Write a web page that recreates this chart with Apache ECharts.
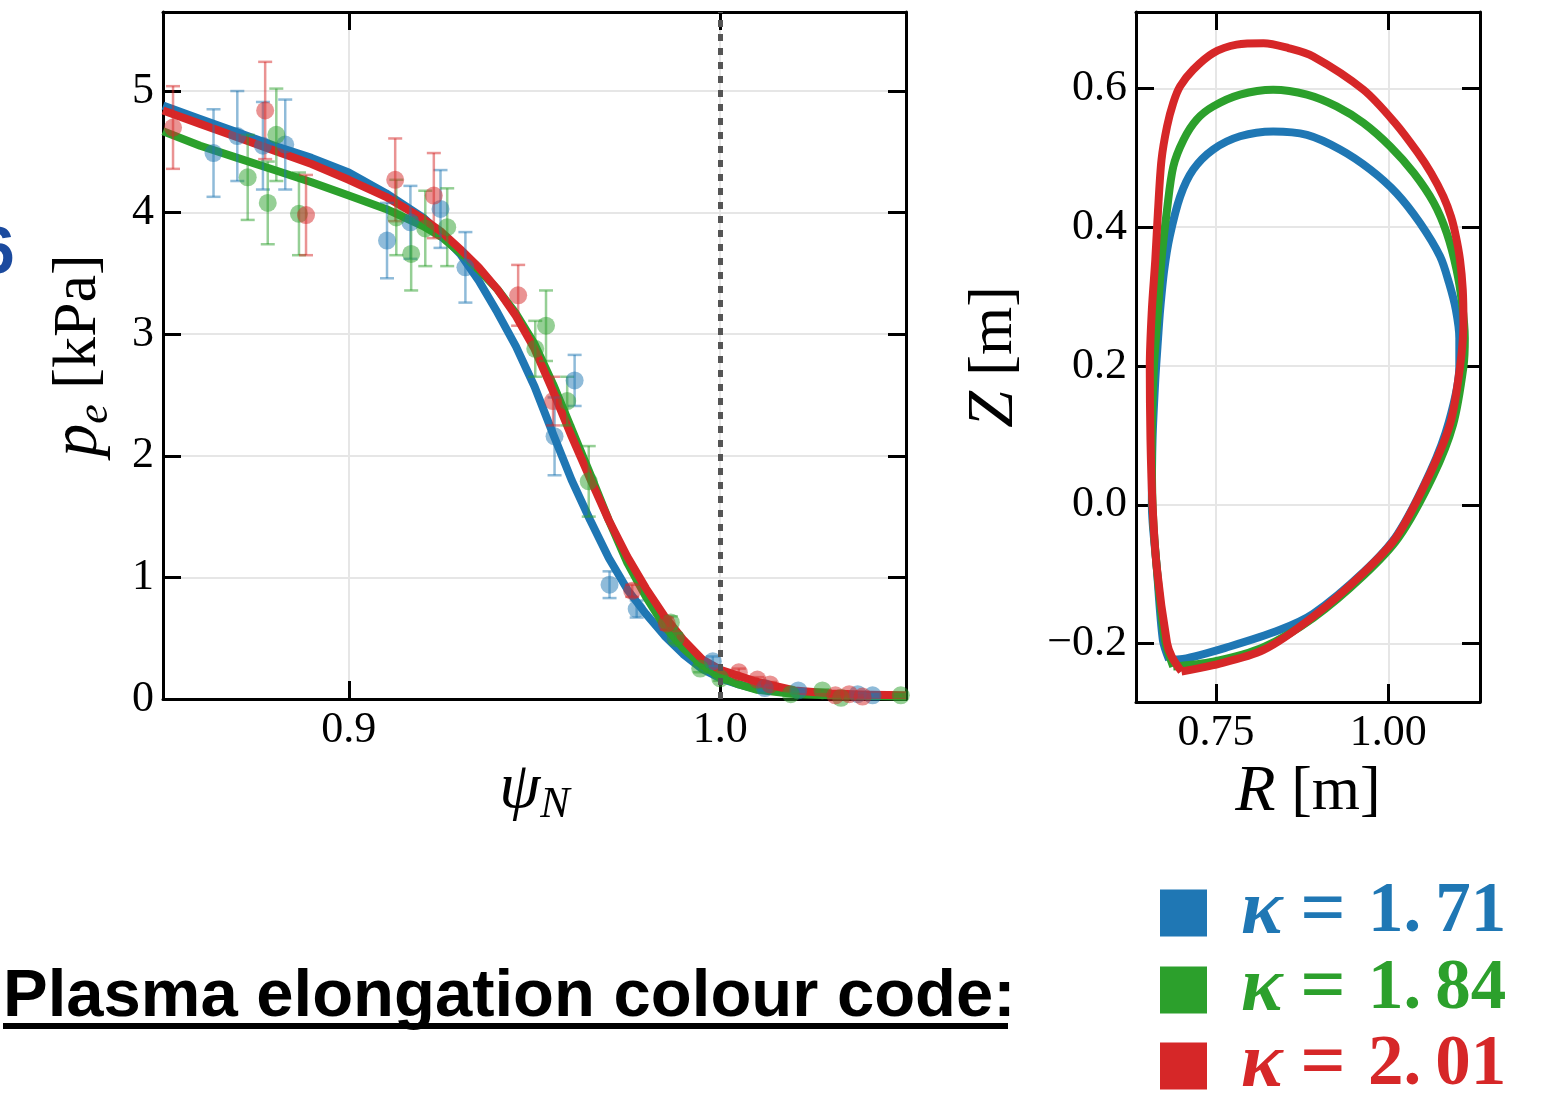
<!DOCTYPE html>
<html>
<head>
<meta charset="utf-8">
<script src="https://cdn.jsdelivr.net/npm/echarts@6/dist/echarts.min.js"></script>
<style>
  html, body { margin: 0; padding: 0; background: #fff; }
  #chart { width: 1568px; height: 1106px; }
</style>
</head>
<body>
<div id="chart"></div>
<script>
// elongation cases
var kappaValues = ['1.71', '1.84', '2.01'];

// pedestal fits, p_e [kPa] vs psi_N
var psiFit = [0.85, 0.86, 0.87, 0.88, 0.89, 0.90, 0.91, 0.92, 0.925, 0.93, 0.935, 0.94, 0.945, 0.95, 0.955,
              0.96, 0.965, 0.97, 0.975, 0.98, 0.985, 0.99, 0.995, 1.00, 1.005, 1.01, 1.02, 1.03, 1.04, 1.05];
var fitBlue  = [4.88, 4.77, 4.66, 4.55, 4.45, 4.33, 4.16, 3.96, 3.82, 3.66, 3.44, 3.18, 2.90, 2.57, 2.18,
                1.80, 1.47, 1.16, 0.90, 0.70, 0.52, 0.37, 0.25, 0.17, 0.12, 0.08, 0.05, 0.035, 0.03, 0.025];
var fitGreen = [4.67, 4.55, 4.45, 4.35, 4.25, 4.14, 4.03, 3.89, 3.80, 3.67, 3.53, 3.37, 3.17, 2.92, 2.59,
                2.22, 1.85, 1.47, 1.12, 0.84, 0.60, 0.42, 0.28, 0.18, 0.12, 0.075, 0.04, 0.03, 0.025, 0.02];
var fitRed   = [4.84, 4.73, 4.62, 4.51, 4.40, 4.27, 4.13, 3.95, 3.84, 3.70, 3.55, 3.37, 3.15, 2.88, 2.53,
                2.16, 1.81, 1.47, 1.17, 0.91, 0.68, 0.49, 0.33, 0.24, 0.19, 0.14, 0.07, 0.045, 0.035, 0.03];

// measured points with error bars
var psiBlue = [0.8636, 0.8700, 0.8769, 0.8829, 0.9103, 0.9166, 0.9247, 0.9314, 0.9554, 0.9608, 0.9702, 0.9775,
               0.9980, 1.0120, 1.0210, 1.0370, 1.0410];
var peBlue  = [4.49, 4.63, 4.55, 4.56, 3.77, 3.92, 4.03, 3.55, 2.16, 2.62, 0.94, 0.74, 0.31, 0.09, 0.07, 0.04, 0.03];
var errBlue = [0.36, 0.37, 0.36, 0.37, 0.31, 0.30, 0.32, 0.29, 0.32, 0.21, 0.11, 0.07, 0.04, 0.02, 0.01, 0.01, 0.01];

var psiGreen = [0.8728, 0.8782, 0.8805, 0.8866, 0.9128, 0.9168, 0.9206, 0.9265, 0.9502, 0.9531, 0.9588, 0.9646,
                0.9867, 0.9880, 0.9946, 1.0000, 1.0190, 1.0275, 1.0325, 1.0486];
var peGreen  = [4.29, 4.08, 4.64, 3.99, 3.96, 3.66, 3.87, 3.88, 2.88, 3.07, 2.45, 1.79, 0.63, 0.50, 0.25, 0.17,
                0.04, 0.07, 0.01, 0.03];
var errGreen = [0.35, 0.34, 0.38, 0.34, 0.31, 0.30, 0.31, 0.32, 0.23, 0.29, 0.20, 0.29, 0.05, 0.04, 0.03, 0.02,
                0.01, 0.01, 0.01, 0.01];

var psiRed = [0.8527, 0.8775, 0.8885, 0.9125, 0.9229, 0.9456, 0.9550, 0.9763, 0.9856, 1.0050, 1.0100, 1.0134,
              1.0310, 1.0347, 1.0383];
var peRed  = [4.70, 4.84, 3.98, 4.27, 4.14, 3.32, 2.45, 0.89, 0.62, 0.22, 0.16, 0.12, 0.03, 0.04, 0.02];
var errRed = [0.34, 0.40, 0.33, 0.34, 0.35, 0.25, 0.20, 0.05, 0.05, 0.03, 0.02, 0.02, 0.01, 0.01, 0.01];

var separatrixPsi = 1.0;

// boundary shapes, R [m] and Z [m]
var rBlue = [0.682, 0.702, 0.770, 0.843, 0.891, 0.964, 1.013, 1.061, 1.088, 1.103, 1.103, 1.098, 1.088, 1.075,
             1.046, 1.012, 0.974, 0.930, 0.882, 0.833, 0.785, 0.746, 0.717, 0.698, 0.683, 0.675, 0.669, 0.666,
             0.662, 0.658, 0.657, 0.664, 0.673, 0.682];
var zBlue = [-0.223, -0.222, -0.204, -0.180, -0.157, -0.097, -0.043, 0.048, 0.120, 0.199, 0.240, 0.281, 0.320, 0.358,
             0.406, 0.449, 0.483, 0.512, 0.533, 0.538, 0.531, 0.512, 0.483, 0.444, 0.387, 0.339, 0.281, 0.240,
             0.180, 0.094, 0.000, -0.089, -0.195, -0.223];

var rGreen = [0.688, 0.746, 0.819, 0.891, 0.964, 1.015, 1.065, 1.094, 1.109, 1.111, 1.107, 1.099, 1.085, 1.066,
              1.037, 1.003, 0.964, 0.925, 0.882, 0.833, 0.785, 0.746, 0.722, 0.703, 0.688, 0.679, 0.671, 0.666,
              0.660, 0.657, 0.658, 0.664, 0.676, 0.688];
var zGreen = [-0.233, -0.226, -0.205, -0.163, -0.102, -0.047, 0.042, 0.116, 0.199, 0.240, 0.290, 0.339, 0.391, 0.435,
              0.478, 0.516, 0.550, 0.574, 0.591, 0.598, 0.591, 0.574, 0.555, 0.526, 0.487, 0.425, 0.353, 0.281,
              0.199, 0.094, 0.000, -0.089, -0.195, -0.233];

var rRed = [0.700, 0.746, 0.819, 0.891, 0.964, 1.012, 1.061, 1.090, 1.104, 1.109, 1.108, 1.104, 1.098, 1.091,
            1.080, 1.062, 1.043, 1.010, 0.964, 0.891, 0.855, 0.819, 0.780, 0.746, 0.717, 0.698, 0.688, 0.679,
            0.671, 0.666, 0.662, 0.657, 0.654, 0.655, 0.658, 0.664, 0.679, 0.686, 0.700];
var zRed = [-0.240, -0.231, -0.209, -0.161, -0.098, -0.046, 0.046, 0.118, 0.199, 0.262, 0.310, 0.353, 0.387, 0.415,
            0.444, 0.478, 0.507, 0.550, 0.598, 0.646, 0.658, 0.665, 0.663, 0.651, 0.627, 0.603, 0.579, 0.545,
            0.497, 0.425, 0.353, 0.281, 0.199, 0.094, 0.000, -0.089, -0.199, -0.219, -0.240];

// tick positions
var psiTicks = [0.9, 1.0];
var peTicks = [0, 1, 2, 3, 4, 5];
var rTicks = [0.75, 1.0];
var zTicks = [-0.2, 0, 0.2, 0.4, 0.6];

var colors = ['#1f77b4', '#2ca02c', '#d62728'];
var serif = '"Liberation Serif", "DejaVu Serif", serif';

function zip(a, b) {
    return a.map(function (v, i) { return [v, b[i]]; });
}

function seriesName(idx) {
    return 'κ = ' + kappaValues[idx];
}

function fitSeries(idx, ys) {
    return {
        type: 'line', name: seriesName(idx), xAxisIndex: 0, yAxisIndex: 0,
        data: zip(psiFit, ys), showSymbol: false, smooth: false,
        color: colors[idx], lineStyle: { width: 8, color: colors[idx], join: 'round' }, z: 2, silent: true
    };
}

function pointSeries(idx, xs, ys) {
    return {
        type: 'scatter', name: seriesName(idx), xAxisIndex: 0, yAxisIndex: 0,
        data: zip(xs, ys), symbolSize: 18, color: colors[idx],
        itemStyle: { color: colors[idx], opacity: 0.5 }, z: 4, silent: true
    };
}

function errSeries(idx, xs, ys, es) {
    var col = echarts.color.modifyAlpha(colors[idx], 0.5);
    return {
        type: 'custom', name: seriesName(idx), xAxisIndex: 0, yAxisIndex: 0,
        data: xs.map(function (x, i) { return [x, ys[i] - es[i], ys[i] + es[i]]; }),
        color: colors[idx], z: 3, silent: true, clip: true,
        renderItem: function (params, api) {
            var lo = api.coord([api.value(0), api.value(1)]);
            var hi = api.coord([api.value(0), api.value(2)]);
            var cap = 7;
            var st = { stroke: col, lineWidth: 2.5 };
            return {
                type: 'group', children: [
                    { type: 'line', shape: { x1: lo[0], y1: lo[1], x2: hi[0], y2: hi[1] }, style: st },
                    { type: 'line', shape: { x1: lo[0] - cap, y1: lo[1], x2: lo[0] + cap, y2: lo[1] }, style: st },
                    { type: 'line', shape: { x1: hi[0] - cap, y1: hi[1], x2: hi[0] + cap, y2: hi[1] }, style: st }
                ]
            };
        }
    };
}

function shapeSeries(idx, rs, zs) {
    return {
        type: 'line', name: seriesName(idx), xAxisIndex: 2, yAxisIndex: 2,
        data: zip(rs, zs), showSymbol: false, smooth: 0.3, color: colors[idx],
        lineStyle: { width: 8, color: colors[idx], join: 'round' }, z: 2 + idx, silent: true
    };
}

function axisBase(ticks, showLabels, fmt) {
    return {
        type: 'value',
        axisLine: { onZero: false, lineStyle: { color: '#000', width: 3 } },
        axisTick: { inside: true, length: 18, customValues: ticks, lineStyle: { color: '#000', width: 3 } },
        axisLabel: {
            show: showLabels, customValues: ticks, formatter: fmt, margin: 9,
            color: '#000', fontFamily: serif, fontSize: 44
        },
        splitLine: { show: showLabels, lineStyle: { color: '#e6e6e6', width: 2 } }
    };
}

function ext(o, extra) {
    for (var k in extra) o[k] = extra[k];
    return o;
}

var fmt1 = function (v) { return (v < 0 ? '\u2212' : '') + Math.abs(v).toFixed(1); };
var fmt2 = function (v) { return v.toFixed(2); };
var fmt0 = function (v) { return String(Math.round(v)); };

var nameRich = {
    i: { fontFamily: serif, fontStyle: 'italic', fontSize: 66, color: '#000' },
    s: { fontFamily: serif, fontStyle: 'italic', fontSize: 44, color: '#000', padding: [32, 0, 0, 0] },
    n: { fontFamily: serif, fontSize: 62, color: '#000' }
};

function legendFor(idx, top) {
    var c = colors[idx];
    return {
        orient: 'vertical', left: 1155, top: top, itemWidth: 47, itemHeight: 47,
        icon: 'rect', selectedMode: false, itemStyle: { borderWidth: 0 },
        data: [seriesName(idx)],
        formatter: function () {
            return '{k|κ}{e|=}{n|' + kappaValues[idx].replace('.', '.\u2009') + '}';
        },
        textStyle: {
            rich: {
                k: { color: c, fontFamily: serif, fontWeight: 'bold', fontStyle: 'italic', fontSize: 78,
                     padding: [0, 0, 0, 29] },
                e: { color: c, fontFamily: serif, fontWeight: 'bold', fontSize: 80, padding: [0, 22, 0, 18] },
                n: { color: c, fontFamily: serif, fontWeight: 'bold', fontSize: 71 }
            }
        }
    };
}

var chart = echarts.init(document.getElementById('chart'));

chart.setOption({
    backgroundColor: '#fff',
    animation: false,
    grid: [
        { left: 163, top: 12, width: 743, height: 687 },
        { left: 1136, top: 12, width: 344, height: 690 }
    ],
    xAxis: [
        ext(axisBase(psiTicks, true, fmt1), {
            gridIndex: 0, min: 0.85, max: 1.05, position: 'bottom',
            name: '{i|ψ}{s|N}', nameLocation: 'middle', nameGap: 44, nameTextStyle: { rich: nameRich }
        }),
        ext(axisBase(psiTicks, false, fmt1), { gridIndex: 0, min: 0.85, max: 1.05, position: 'top' }),
        ext(axisBase(rTicks, true, fmt2), {
            gridIndex: 1, min: 0.634, max: 1.133, position: 'bottom',
            name: '{i|R}{n| [m]}', nameLocation: 'middle', nameGap: 50, nameTextStyle: { rich: nameRich }
        }),
        ext(axisBase(rTicks, false, fmt2), { gridIndex: 1, min: 0.634, max: 1.133, position: 'top' })
    ],
    yAxis: [
        ext(axisBase(peTicks, true, fmt0), {
            gridIndex: 0, min: 0, max: 5.65, position: 'left',
            name: '{i|p}{s|e}{n| [kPa]}', nameLocation: 'middle', nameGap: 46, nameTextStyle: { rich: nameRich }
        }),
        ext(axisBase(peTicks, false, fmt0), { gridIndex: 0, min: 0, max: 5.65, position: 'right' }),
        ext(axisBase(zTicks, true, fmt1), {
            gridIndex: 1, min: -0.284, max: 0.71, position: 'left',
            name: '{i|Z}{n| [m]}', nameLocation: 'middle', nameGap: 108, nameTextStyle: { rich: nameRich }
        }),
        ext(axisBase(zTicks, false, fmt1), { gridIndex: 1, min: -0.284, max: 0.71, position: 'right' })
    ],
    legend: [legendFor(0, 868), legendFor(1, 945), legendFor(2, 1021)],
    graphic: [
        { type: 'text', left: -22, top: 222, style: { text: '6', fill: '#1b4a9e',
          font: 'bold 66px "Liberation Sans", Arial, sans-serif' } },
        { type: 'text', left: 3, top: 964, style: { text: 'Plasma elongation colour code:', fill: '#000',
          font: 'bold 67px "Liberation Sans", Arial, sans-serif' } },
        { type: 'rect', left: 3, top: 1023, shape: { width: 1005, height: 6 }, style: { fill: '#000' } }
    ],
    series: [
        ext(fitSeries(0, fitBlue), {
            markLine: {
                silent: true, symbol: ['none', 'none'], label: { show: false },
                lineStyle: { type: [7, 7], color: '#555', width: 5 },
                emphasis: { disabled: true },
                data: [{ xAxis: separatrixPsi }]
            }
        }),
        fitSeries(1, fitGreen),
        fitSeries(2, fitRed),
        errSeries(0, psiBlue, peBlue, errBlue),
        errSeries(1, psiGreen, peGreen, errGreen),
        errSeries(2, psiRed, peRed, errRed),
        pointSeries(0, psiBlue, peBlue),
        pointSeries(1, psiGreen, peGreen),
        pointSeries(2, psiRed, peRed),
        shapeSeries(0, rBlue, zBlue),
        shapeSeries(1, rGreen, zGreen),
        shapeSeries(2, rRed, zRed)
    ]
});
</script>
</body>
</html>
